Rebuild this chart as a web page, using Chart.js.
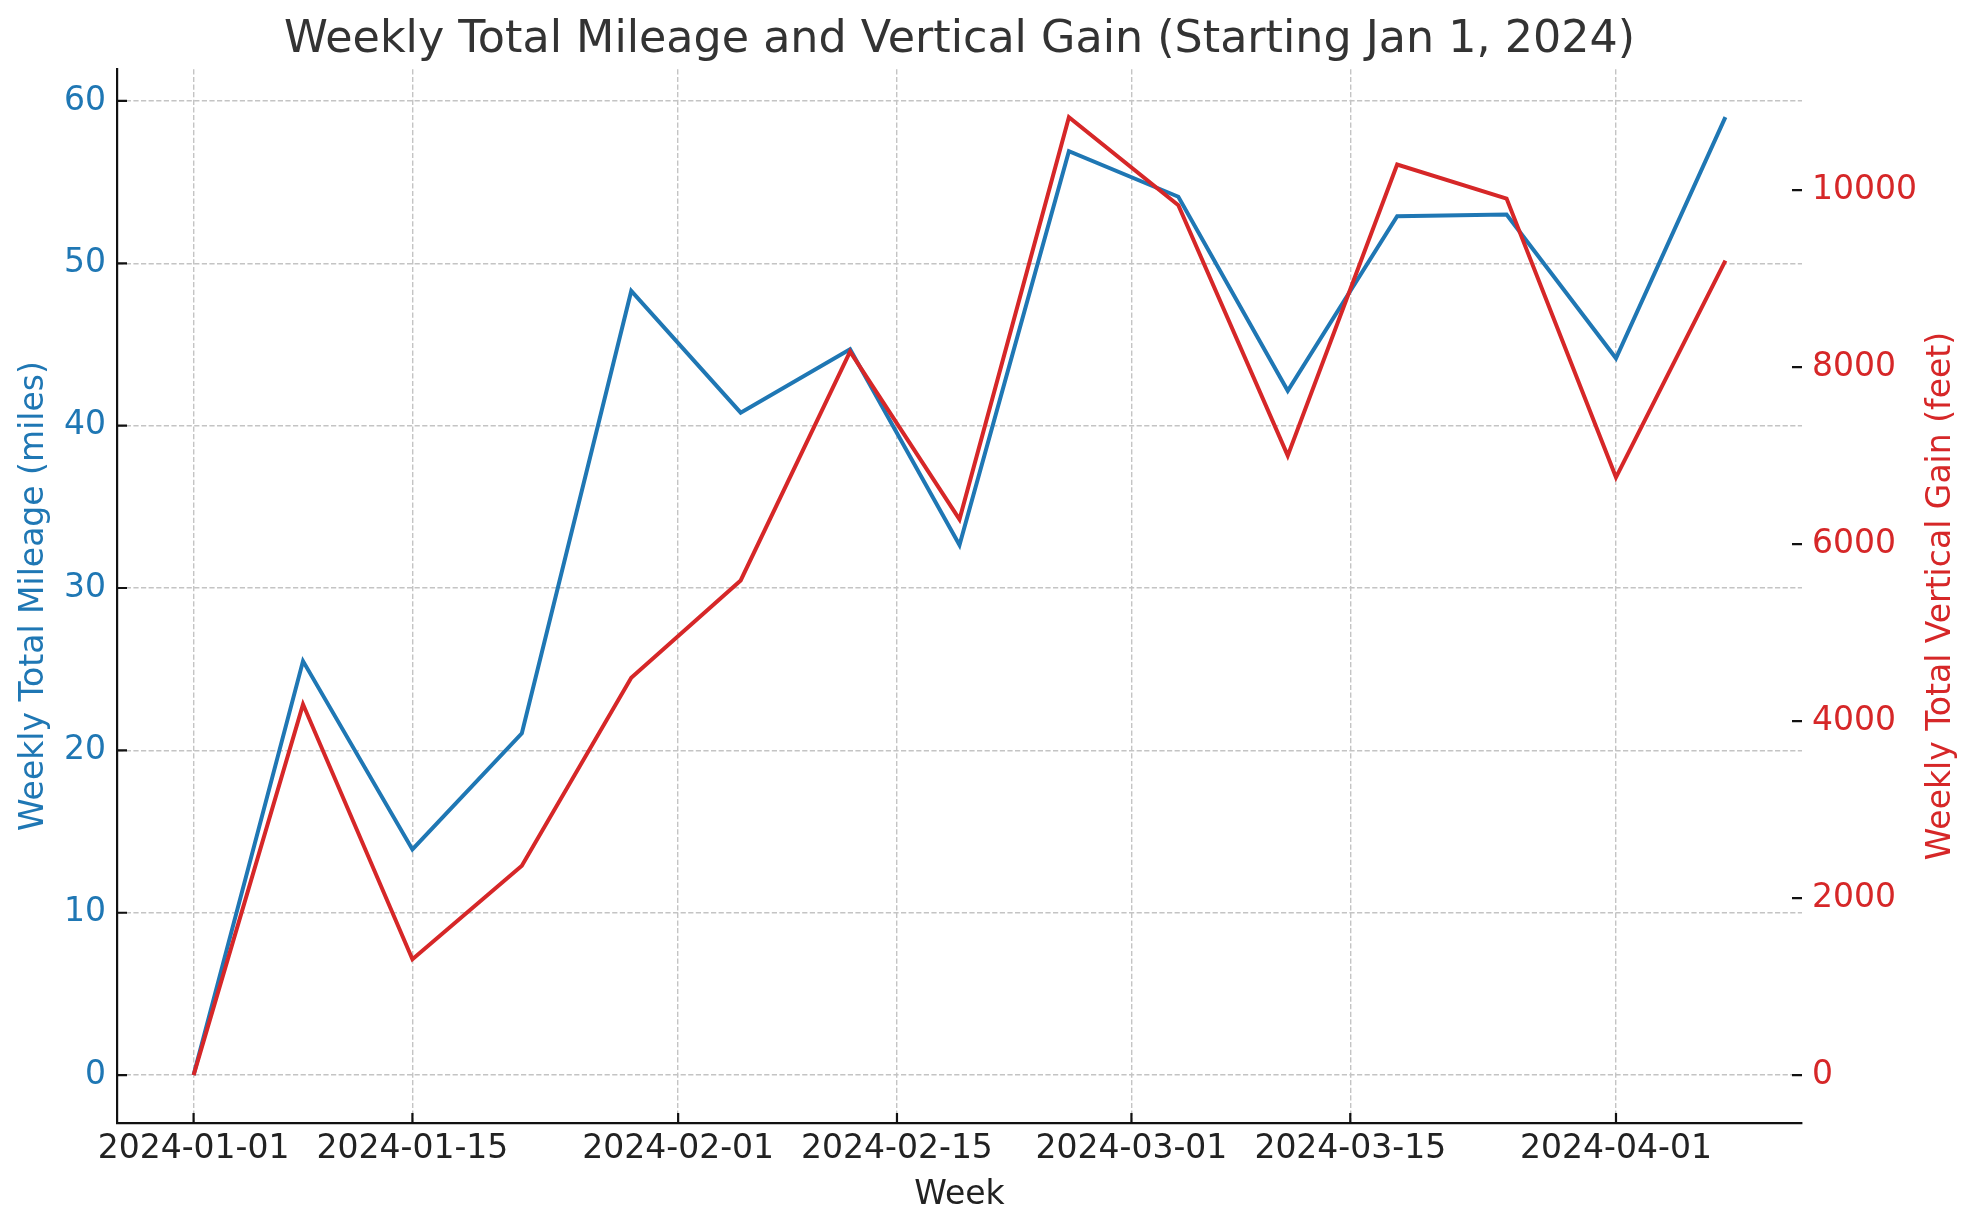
<!DOCTYPE html>
<html>
<head>
<meta charset="utf-8">
<script src="https://cdn.jsdelivr.net/npm/chart.js@4.4.1/dist/chart.umd.min.js"></script>
<style>
html,body{margin:0;padding:0;background:#ffffff;}
#c{display:block;}
</style>
</head>
<body>
<canvas id="c" width="1979" height="1230"></canvas>
<script>
// ---- data ----
const weeks = ['2024-01-01','2024-01-08','2024-01-15','2024-01-22','2024-01-29','2024-02-05','2024-02-12','2024-02-19','2024-02-26','2024-03-04','2024-03-11','2024-03-18','2024-03-25','2024-04-01','2024-04-08'];
const mileage = [0, 25.5, 13.9, 21.05, 48.3, 40.8, 44.7, 32.65, 56.9, 54.1, 42.15, 52.9, 53.0, 44.15, 59.0];
const verticalGain = [0, 4190, 1310, 2365, 4490, 5590, 8175, 6280, 10825, 9830, 7000, 10290, 9905, 6755, 9205];
const xTickLabels = ['2024-01-01','2024-01-15','2024-02-01','2024-02-15','2024-03-01','2024-03-15','2024-04-01'];
const mileageTicks = [0, 10, 20, 30, 40, 50, 60];
const gainTicks = [0, 2000, 4000, 6000, 8000, 10000];

const BLUE = '#1f77b4';
const RED = '#d62728';
const FONT = "'DejaVu Sans', 'Liberation Sans', sans-serif";

const t0 = Date.parse(weeks[0] + 'T00:00:00Z');
const dayOf = s => (Date.parse(s + 'T00:00:00Z') - t0) / 86400000;
const xDays = weeks.map(dayOf);
const xTickDays = xTickLabels.map(dayOf);

function padRange(arr) {
  const mn = Math.min(...arr), mx = Math.max(...arr);
  const m = (mx - mn) * 0.05;
  return [mn - m, mx + m];
}
const xr = padRange(xDays);
const y1r = padRange(mileage);
const y2r = padRange(verticalGain);

const inwardTicks = {
  id: 'inwardTicks',
  afterDraw(chart) {
    const ctx = chart.ctx;
    const ca = chart.chartArea;
    const L = 10;
    ctx.save();
    ctx.strokeStyle = '#111111';
    ctx.lineWidth = 2.2;
    ctx.beginPath();
    const sx = chart.scales.x;
    xTickDays.forEach(v => {
      const p = sx.getPixelForValue(v);
      ctx.moveTo(p, ca.bottom); ctx.lineTo(p, ca.bottom - L);
    });
    const sy = chart.scales.y;
    mileageTicks.forEach(v => {
      const p = sy.getPixelForValue(v);
      ctx.moveTo(ca.left, p); ctx.lineTo(ca.left + L, p);
    });
    const sy2 = chart.scales.y1;
    gainTicks.forEach(v => {
      const p = sy2.getPixelForValue(v);
      ctx.moveTo(ca.right, p); ctx.lineTo(ca.right - L, p);
    });
    ctx.stroke();
    // right axis title (reads bottom-to-top)
    const t = chart.options.scales.y1.title;
    ctx.fillStyle = t.color;
    ctx.font = '33px ' + FONT;
    ctx.textAlign = 'center';
    ctx.textBaseline = 'middle';
    ctx.translate(1941, (ca.top + ca.bottom) / 2);
    ctx.rotate(-Math.PI / 2);
    ctx.fillText(t.text, 0, 0);
    ctx.restore();
  }
};

new Chart(document.getElementById('c'), {
  type: 'line',
  data: {
    datasets: [
      {
        label: 'Weekly Total Mileage (miles)',
        data: xDays.map((d, i) => ({x: d, y: mileage[i]})),
        borderColor: BLUE,
        borderWidth: 4,
        pointRadius: 0,
        tension: 0,
        yAxisID: 'y',
        order: 2
      },
      {
        label: 'Weekly Total Vertical Gain (feet)',
        data: xDays.map((d, i) => ({x: d, y: verticalGain[i]})),
        borderColor: RED,
        borderWidth: 4,
        pointRadius: 0,
        tension: 0,
        yAxisID: 'y1',
        order: 1
      }
    ]
  },
  options: {
    responsive: false,
    animation: false,
    devicePixelRatio: 1,
    layout: {padding: 0},
    plugins: {
      legend: {display: false},
      tooltip: {enabled: false},
      title: {
        display: true,
        text: 'Weekly Total Mileage and Vertical Gain (Starting Jan 1, 2024)',
        color: '#333333',
        font: {family: FONT, size: 44.4, weight: 'normal'},
        padding: {top: 14, bottom: 2},
        fullSize: false
      }
    },
    scales: {
      x: {
        type: 'linear',
        min: xr[0], max: xr[1],
        afterBuildTicks: s => { s.ticks = xTickDays.map(v => ({value: v})); },
        afterFit: s => { s.height = 107; },
        ticks: {
          color: '#222222',
          font: {family: FONT, size: 33},
          padding: 7,
          maxRotation: 0,
          autoSkip: false,
          callback: (v) => { const i = xTickDays.indexOf(v); return i >= 0 ? xTickLabels[i] : ''; }
        },
        grid: {color: '#c4c4c4', lineWidth: 1.4, drawTicks: false},
        border: {display: true, color: '#111111', width: 2.2, dash: [5.2, 2.4]},
        title: {display: true, text: 'Week', color: '#222222', font: {family: FONT, size: 33}, padding: {top: 0, bottom: 15}}
      },
      y: {
        type: 'linear',
        position: 'left',
        min: y1r[0], max: y1r[1],
        afterBuildTicks: s => { s.ticks = mileageTicks.map(v => ({value: v})); },
        afterFit: s => { s.width = 117; },
        ticks: {color: BLUE, font: {family: FONT, size: 33}, padding: 11, callback: v => String(v)},
        grid: {color: '#c4c4c4', lineWidth: 1.4, drawTicks: false},
        border: {display: true, color: '#111111', width: 2.2, dash: [5.2, 2.4]},
        title: {display: true, text: 'Weekly Total Mileage (miles)', color: BLUE, font: {family: FONT, size: 33}, padding: {top: 15, bottom: 0}}
      },
      y1: {
        type: 'linear',
        position: 'right',
        min: y2r[0], max: y2r[1],
        afterBuildTicks: s => { s.ticks = gainTicks.map(v => ({value: v})); },
        afterFit: s => { s.width = 177; },
        ticks: {color: RED, font: {family: FONT, size: 33}, padding: 10, callback: v => String(v)},
        grid: {drawOnChartArea: false, drawTicks: false},
        border: {display: false},
        title: {display: false, text: 'Weekly Total Vertical Gain (feet)', color: RED}
      }
    }
  },
  plugins: [inwardTicks]
});
</script>
</body>
</html>
